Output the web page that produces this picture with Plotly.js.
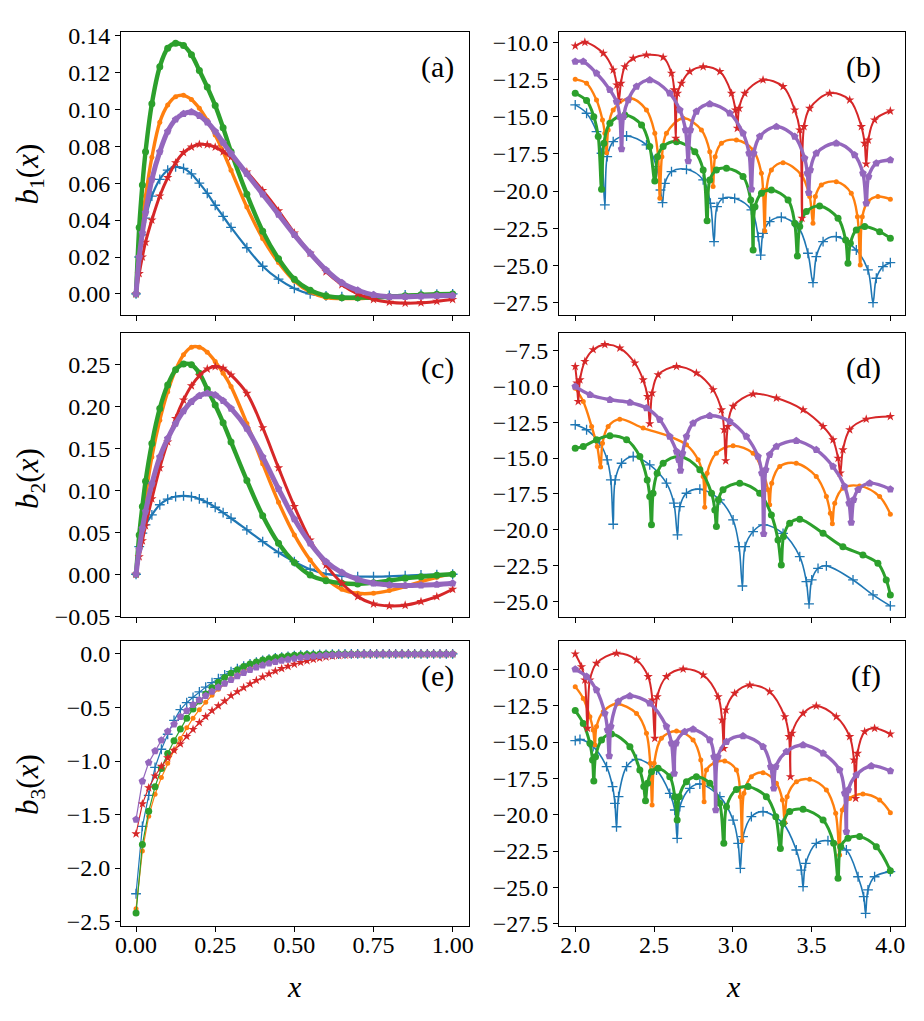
<!DOCTYPE html>
<html><head><meta charset="utf-8">
<script src="https://cdn.plot.ly/plotly-3.0.1.min.js"></script>
<style>html,body{margin:0;padding:0;background:#fff}#chart{width:924px;height:1021px}</style>
</head><body><div id="chart"></div>
<script>
// ---------- DATA ----------
// left column (a), (c): common x grid
const xLeft = [0, 0.01, 0.02, 0.03, 0.05, 0.075, 0.1, 0.125, 0.15, 0.175, 0.2, 0.225, 0.25, 0.275, 0.3, 0.35, 0.4, 0.45, 0.5, 0.55, 0.6, 0.65, 0.7, 0.75, 0.8, 0.85, 0.9, 0.95, 1.0];

const a_blue   = [0, 0.02, 0.032, 0.041, 0.053, 0.062, 0.067, 0.0688, 0.068, 0.065, 0.060, 0.0545, 0.048, 0.042, 0.036, 0.025, 0.015, 0.008, 0.003, 0.0, -0.001, -0.0015, -0.0015, -0.001, -0.0008, -0.0005, -0.0003, -0.0001, 0];
const a_orange = [0, 0.022, 0.04, 0.053, 0.074, 0.093, 0.1023, 0.1068, 0.1075, 0.1052, 0.1005, 0.094, 0.086, 0.077, 0.067, 0.047, 0.030, 0.017, 0.007, 0.001, -0.002, -0.0025, -0.0025, -0.002, -0.0015, -0.001, -0.0005, -0.0002, 0];
const a_green  = [0, 0.036, 0.059, 0.077, 0.103, 0.123, 0.133, 0.1357, 0.1345, 0.1295, 0.121, 0.112, 0.102, 0.09, 0.077, 0.054, 0.034, 0.019, 0.008, 0.002, -0.001, -0.002, -0.002, -0.002, -0.0015, -0.001, -0.0005, -0.0002, 0];
const a_red    = [0, 0.011, 0.02, 0.028, 0.040, 0.053, 0.063, 0.071, 0.0765, 0.0795, 0.081, 0.0808, 0.0795, 0.077, 0.074, 0.066, 0.056, 0.045, 0.033, 0.022, 0.012, 0.005, 0.0, -0.003, -0.0045, -0.005, -0.0048, -0.004, -0.003];
const a_purple = [0, 0.02, 0.033, 0.044, 0.062, 0.077, 0.088, 0.0945, 0.0975, 0.0985, 0.0965, 0.093, 0.088, 0.082, 0.076, 0.065, 0.054, 0.043, 0.032, 0.022, 0.013, 0.006, 0.002, -0.0005, -0.0015, -0.0015, -0.0012, -0.001, -0.0008];

const c_blue   = [0, 0.033, 0.049, 0.059, 0.071, 0.083, 0.0896, 0.0928, 0.0935, 0.0928, 0.09, 0.0856, 0.08, 0.0735, 0.0669, 0.053, 0.039, 0.026, 0.015, 0.006, 0.0004, -0.002, -0.0028, -0.0028, -0.0024, -0.0016, -0.0008, -0.0004, 0];
const c_orange = [0, 0.033, 0.069, 0.093, 0.14, 0.184, 0.218, 0.244, 0.262, 0.271, 0.271, 0.265, 0.254, 0.240, 0.224, 0.18, 0.132, 0.086, 0.047, 0.017, -0.005, -0.018, -0.0227, -0.0227, -0.0195, -0.0147, -0.0088, -0.0036, 0.001];
const c_green  = [0, 0.047, 0.081, 0.111, 0.156, 0.198, 0.226, 0.244, 0.251, 0.25, 0.24, 0.221, 0.202, 0.181, 0.158, 0.112, 0.07, 0.037, 0.014, -0.001, -0.0076, -0.0107, -0.0115, -0.01, -0.0076, -0.0048, -0.003, -0.0012, 0];
const c_red    = [0, 0.021, 0.04, 0.058, 0.09, 0.127, 0.158, 0.186, 0.208, 0.225, 0.237, 0.245, 0.248, 0.246, 0.238, 0.216, 0.175, 0.127, 0.081, 0.041, 0.011, -0.0107, -0.0267, -0.0354, -0.0378, -0.037, -0.0326, -0.0267, -0.0179];
const c_purple = [0, 0.03, 0.055, 0.075, 0.108, 0.140, 0.162, 0.18, 0.195, 0.206, 0.213, 0.216, 0.214, 0.207, 0.198, 0.174, 0.14, 0.102, 0.066, 0.037, 0.015, 0.002, -0.006, -0.0107, -0.0127, -0.0135, -0.0131, -0.0123, -0.0107];

// panel (e)
const xE = [0, 0.02, 0.04, 0.06, 0.08, 0.10, 0.12, 0.14, 0.16, 0.18, 0.20, 0.22, 0.24, 0.26, 0.28, 0.30, 0.32, 0.34, 0.36, 0.38, 0.40, 0.42, 0.44, 0.46, 0.48, 0.50, 0.52, 0.54, 0.56, 0.58, 0.60, 0.62, 0.64, 0.66, 0.68, 0.70, 0.72, 0.74, 0.76, 0.78, 0.80, 0.82, 0.84, 0.86, 0.88, 0.90, 0.92, 0.94, 0.96, 0.98, 1.0];
const e_blue   = [-2.24, -1.61, -1.32, -1.06, -0.89, -0.75, -0.62, -0.52, -0.455, -0.405, -0.355, -0.31, -0.268, -0.23, -0.195, -0.165, -0.138, -0.114, -0.094, -0.076, -0.061, -0.049, -0.038, -0.03, -0.023, -0.017, -0.012, -0.009, -0.006, -0.004, -0.003, -0.002, -0.001, 0, 0, 0, 0, 0, 0, 0, 0, 0, 0, 0, 0, 0, 0, 0, 0, 0, 0];
const e_orange = [-2.38, -1.84, -1.515, -1.31, -1.155, -1.02, -0.90, -0.79, -0.69, -0.60, -0.52, -0.45, -0.385, -0.33, -0.28, -0.235, -0.195, -0.16, -0.13, -0.105, -0.084, -0.066, -0.051, -0.039, -0.03, -0.022, -0.016, -0.011, -0.008, -0.005, -0.003, -0.002, -0.001, 0, 0, 0, 0, 0, 0, 0, 0, 0, 0, 0, 0, 0, 0, 0, 0, 0, 0];
const e_green  = [-2.42, -1.78, -1.47, -1.24, -1.07, -0.93, -0.81, -0.70, -0.60, -0.515, -0.44, -0.375, -0.315, -0.265, -0.22, -0.18, -0.147, -0.118, -0.094, -0.074, -0.057, -0.044, -0.033, -0.025, -0.018, -0.013, -0.009, -0.006, -0.004, -0.002, -0.001, 0, 0, 0, 0, 0, 0, 0, 0, 0, 0, 0, 0, 0, 0, 0, 0, 0, 0, 0, 0];
const e_red    = [-1.68, -1.40, -1.25, -1.14, -1.05, -0.97, -0.90, -0.84, -0.77, -0.705, -0.64, -0.585, -0.53, -0.485, -0.44, -0.39, -0.352, -0.315, -0.28, -0.247, -0.215, -0.187, -0.16, -0.137, -0.115, -0.096, -0.079, -0.064, -0.05, -0.038, -0.028, -0.02, -0.014, -0.009, -0.006, -0.004, -0.002, -0.001, 0, 0, 0, 0, 0, 0, 0, 0, 0, 0, 0, 0, 0];
const e_purple = [-1.546, -1.19, -1.015, -0.906, -0.806, -0.725, -0.656, -0.587, -0.531, -0.475, -0.431, -0.39, -0.35, -0.312, -0.275, -0.24, -0.205, -0.175, -0.148, -0.125, -0.105, -0.088, -0.074, -0.062, -0.051, -0.042, -0.034, -0.027, -0.021, -0.016, -0.012, -0.009, -0.006, -0.004, -0.003, -0.002, -0.001, 0, 0, 0, 0, 0, 0, 0, 0, 0, 0, 0, 0, 0, 0];

// right column: [x, value] pairs
const b_blue = [[2.000,-14.21],[2.072,-14.77],[2.135,-16.00],[2.167,-17.46],[2.188,-20.93],[2.203,-17.69],[2.241,-16.68],[2.326,-16.30],[2.452,-16.90],[2.516,-18.36],[2.541,-19.93],[2.554,-20.78],[2.569,-19.48],[2.611,-18.69],[2.706,-18.54],[2.812,-19.25],[2.858,-20.82],[2.881,-23.40],[2.900,-21.05],[2.938,-20.49],[3.012,-20.49],[3.118,-21.27],[3.161,-23.06],[3.177,-24.30],[3.192,-22.84],[3.234,-22.05],[3.308,-21.76],[3.414,-22.39],[3.477,-24.18],[3.509,-26.16],[3.530,-24.41],[3.573,-23.40],[3.657,-23.06],[3.784,-23.96],[3.858,-25.30],[3.890,-27.50],[3.911,-25.86],[3.953,-25.08],[4.000,-24.81]];
const b_orange = [[2.000,-12.49],[2.072,-12.76],[2.135,-13.88],[2.173,-15.22],[2.188,-16.12],[2.199,-17.42],[2.209,-15.89],[2.241,-14.55],[2.347,-13.76],[2.452,-14.55],[2.505,-16.12],[2.526,-17.69],[2.537,-20.49],[2.550,-17.69],[2.579,-16.12],[2.685,-15.11],[2.801,-15.89],[2.854,-17.35],[2.875,-19.70],[2.888,-17.69],[2.928,-16.79],[3.023,-16.57],[3.129,-17.24],[3.182,-18.81],[3.192,-19.93],[3.203,-22.68],[3.213,-19.93],[3.245,-18.58],[3.319,-18.09],[3.435,-18.92],[3.488,-20.37],[3.509,-22.17],[3.524,-20.37],[3.562,-19.59],[3.657,-19.37],[3.752,-20.15],[3.791,-21.72],[3.809,-24.97],[3.822,-21.72],[3.858,-20.71],[3.921,-20.37],[4.000,-20.55]];
const b_green = [[2.000,-13.43],[2.072,-13.92],[2.118,-15.00],[2.146,-16.34],[2.167,-19.88],[2.182,-16.79],[2.220,-15.44],[2.315,-14.88],[2.421,-15.56],[2.473,-17.01],[2.505,-19.32],[2.522,-17.69],[2.558,-17.01],[2.643,-16.68],[2.759,-17.35],[2.812,-18.58],[2.837,-21.99],[2.854,-19.25],[2.896,-18.58],[2.960,-18.47],[3.065,-19.03],[3.114,-20.60],[3.129,-23.96],[3.141,-21.05],[3.182,-20.15],[3.245,-19.93],[3.351,-20.60],[3.393,-22.17],[3.410,-24.36],[3.425,-22.39],[3.467,-21.38],[3.551,-21.00],[3.668,-21.83],[3.716,-23.29],[3.731,-24.86],[3.746,-23.51],[3.784,-22.61],[3.837,-22.39],[3.932,-22.73],[4.000,-23.18]];
const b_red = [[2.000,-10.25],[2.061,-10.00],[2.178,-10.74],[2.241,-11.86],[2.264,-12.87],[2.277,-13.88],[2.290,-12.76],[2.315,-11.64],[2.368,-11.08],[2.452,-10.85],[2.558,-11.01],[2.611,-12.08],[2.628,-13.20],[2.638,-16.45],[2.649,-13.43],[2.674,-12.76],[2.727,-11.97],[2.812,-11.64],[2.918,-11.97],[2.992,-13.43],[3.017,-14.55],[3.029,-15.78],[3.040,-14.44],[3.076,-13.43],[3.192,-12.53],[3.319,-12.98],[3.393,-14.55],[3.425,-15.89],[3.439,-21.83],[3.452,-15.67],[3.488,-14.44],[3.615,-13.43],[3.742,-13.88],[3.816,-15.67],[3.837,-16.79],[3.847,-18.18],[3.860,-16.57],[3.900,-15.22],[4.000,-14.62]];
const b_purple = [[2.000,-11.30],[2.051,-11.30],[2.135,-12.08],[2.220,-13.20],[2.262,-13.99],[2.283,-15.00],[2.294,-17.17],[2.306,-15.00],[2.336,-13.88],[2.389,-12.98],[2.473,-12.53],[2.600,-13.43],[2.664,-14.55],[2.700,-15.89],[2.717,-17.98],[2.731,-15.89],[2.769,-14.66],[2.854,-14.15],[2.981,-14.77],[3.065,-16.12],[3.103,-17.46],[3.118,-19.88],[3.133,-17.46],[3.171,-16.34],[3.277,-15.67],[3.393,-16.34],[3.456,-17.80],[3.473,-18.81],[3.482,-20.11],[3.492,-18.58],[3.530,-17.46],[3.657,-16.79],[3.773,-17.57],[3.826,-18.81],[3.847,-20.82],[3.862,-19.03],[3.911,-18.13],[4.000,-17.91]];

const d_blue = [[2.000,-12.68],[2.072,-13.03],[2.156,-13.96],[2.203,-15.12],[2.226,-16.52],[2.241,-19.61],[2.254,-16.52],[2.294,-15.36],[2.368,-14.89],[2.473,-15.47],[2.579,-16.75],[2.626,-18.14],[2.649,-20.35],[2.664,-18.38],[2.706,-17.45],[2.791,-17.17],[2.918,-17.91],[3.002,-19.31],[3.040,-21.17],[3.061,-23.91],[3.078,-21.17],[3.129,-20.12],[3.192,-19.65],[3.319,-20.24],[3.425,-21.86],[3.467,-23.60],[3.484,-25.16],[3.501,-23.49],[3.541,-22.68],[3.594,-22.51],[3.763,-23.49],[3.890,-24.53],[4.000,-25.30]];
const d_orange = [[2.000,-10.13],[2.051,-11.06],[2.104,-12.80],[2.140,-14.19],[2.161,-15.63],[2.173,-13.96],[2.209,-12.80],[2.283,-12.29],[2.431,-12.91],[2.600,-13.50],[2.706,-14.08],[2.780,-15.12],[2.812,-16.28],[2.822,-18.42],[2.837,-16.05],[2.896,-14.66],[3.002,-14.15],[3.129,-14.66],[3.192,-16.05],[3.224,-17.21],[3.234,-18.26],[3.247,-16.75],[3.298,-15.59],[3.403,-15.36],[3.530,-16.28],[3.594,-17.68],[3.619,-18.84],[3.632,-19.58],[3.647,-18.14],[3.699,-17.10],[3.805,-16.94],[3.932,-17.68],[4.000,-18.91]];
const d_green = [[2.000,-14.31],[2.051,-14.19],[2.135,-13.73],[2.220,-13.45],[2.326,-13.73],[2.410,-14.89],[2.457,-16.52],[2.473,-17.68],[2.484,-19.65],[2.494,-17.45],[2.520,-16.05],[2.558,-15.36],[2.664,-14.89],[2.791,-15.82],[2.865,-17.45],[2.886,-18.61],[2.896,-19.77],[2.909,-17.91],[2.938,-17.21],[3.044,-16.75],[3.171,-17.45],[3.245,-18.96],[3.287,-20.70],[3.308,-22.44],[3.322,-20.47],[3.361,-19.54],[3.425,-19.26],[3.573,-20.24],[3.699,-21.17],[3.826,-21.75],[3.921,-22.33],[3.974,-23.49],[4.000,-24.53]];
const d_red = [[2.000,-8.62],[2.011,-9.78],[2.019,-11.06],[2.030,-9.55],[2.061,-8.27],[2.114,-7.45],[2.188,-7.10],[2.283,-7.34],[2.378,-8.38],[2.431,-9.55],[2.459,-10.71],[2.473,-12.61],[2.488,-10.47],[2.526,-9.20],[2.643,-8.62],[2.769,-9.08],[2.875,-10.24],[2.928,-11.64],[2.945,-13.03],[2.955,-15.19],[2.968,-12.80],[3.002,-11.40],[3.129,-10.54],[3.277,-10.82],[3.446,-11.64],[3.573,-12.80],[3.636,-13.73],[3.668,-15.01],[3.682,-16.05],[3.699,-14.43],[3.742,-13.03],[3.847,-12.29],[4.000,-12.10]];
const d_purple = [[2.000,-10.01],[2.093,-10.59],[2.220,-10.94],[2.347,-11.13],[2.452,-11.52],[2.537,-12.33],[2.600,-13.50],[2.643,-14.54],[2.657,-15.12],[2.668,-15.87],[2.681,-14.66],[2.706,-13.50],[2.748,-12.57],[2.854,-12.06],[2.981,-12.45],[3.086,-13.50],[3.160,-14.89],[3.184,-16.05],[3.196,-20.28],[3.209,-15.82],[3.234,-14.77],[3.277,-14.19],[3.403,-13.80],[3.530,-14.43],[3.636,-15.59],[3.710,-16.98],[3.738,-18.14],[3.752,-19.49],[3.767,-17.91],[3.795,-17.21],[3.869,-16.75],[4.000,-17.17]];

const f_blue = [[2.000,-14.91],[2.030,-14.82],[2.114,-15.32],[2.199,-16.70],[2.237,-18.07],[2.252,-19.22],[2.262,-20.83],[2.275,-18.76],[2.326,-16.70],[2.389,-16.19],[2.516,-16.93],[2.600,-18.53],[2.632,-19.68],[2.647,-21.63],[2.664,-19.45],[2.727,-18.19],[2.791,-17.89],[2.918,-18.76],[3.002,-20.37],[3.034,-21.97],[3.048,-23.69],[3.065,-21.51],[3.118,-20.14],[3.192,-19.79],[3.319,-20.60],[3.403,-22.43],[3.435,-23.81],[3.446,-24.95],[3.463,-23.35],[3.530,-21.97],[3.604,-21.79],[3.721,-22.43],[3.795,-24.27],[3.831,-25.64],[3.843,-26.79],[3.858,-25.18],[3.900,-24.27],[4.000,-23.92]];
const f_orange = [[2.000,-11.19],[2.051,-12.00],[2.093,-13.26],[2.114,-14.17],[2.125,-15.21],[2.135,-13.94],[2.178,-12.91],[2.262,-12.39],[2.389,-13.03],[2.452,-14.40],[2.476,-16.47],[2.488,-19.33],[2.501,-16.47],[2.547,-14.75],[2.643,-14.24],[2.748,-14.86],[2.797,-16.24],[2.818,-19.11],[2.833,-16.93],[2.886,-16.42],[2.949,-16.31],[3.023,-16.93],[3.048,-18.76],[3.059,-21.79],[3.071,-18.53],[3.118,-17.39],[3.192,-17.11],[3.277,-17.84],[3.315,-18.99],[3.330,-20.55],[3.345,-18.76],[3.404,-17.73],[3.488,-17.57],[3.594,-18.30],[3.653,-19.91],[3.678,-22.78],[3.695,-19.68],[3.742,-18.88],[3.826,-18.58],[3.932,-18.99],[4.000,-19.86]];
const f_green = [[2.000,-12.84],[2.051,-13.72],[2.093,-15.09],[2.110,-16.24],[2.118,-17.68],[2.129,-16.01],[2.167,-14.86],[2.230,-14.45],[2.347,-15.32],[2.410,-16.93],[2.435,-18.07],[2.446,-19.04],[2.459,-17.84],[2.484,-17.04],[2.526,-16.81],[2.600,-17.39],[2.632,-18.76],[2.647,-20.37],[2.660,-18.76],[2.706,-17.73],[2.769,-17.39],[2.854,-17.84],[2.917,-19.22],[2.943,-21.97],[2.960,-19.45],[3.023,-18.26],[3.097,-18.07],[3.213,-18.76],[3.273,-20.14],[3.302,-22.32],[3.319,-20.60],[3.361,-19.79],[3.446,-19.63],[3.573,-20.37],[3.640,-21.97],[3.668,-24.38],[3.685,-22.20],[3.731,-21.63],[3.805,-21.51],[3.911,-22.20],[4.000,-23.85]];
const f_red = [[2.000,-8.94],[2.040,-9.82],[2.061,-10.73],[2.078,-14.06],[2.093,-10.73],[2.135,-9.59],[2.262,-8.90],[2.389,-9.36],[2.463,-10.50],[2.490,-12.11],[2.505,-14.75],[2.520,-11.88],[2.579,-10.50],[2.685,-9.98],[2.812,-10.39],[2.907,-11.88],[2.932,-13.49],[2.943,-15.44],[2.956,-12.80],[3.012,-11.65],[3.108,-11.08],[3.234,-11.54],[3.330,-13.26],[3.357,-14.63],[3.366,-17.39],[3.376,-14.40],[3.446,-13.03],[3.530,-12.52],[3.657,-13.26],[3.742,-14.63],[3.769,-16.24],[3.780,-18.88],[3.791,-15.78],[3.837,-14.29],[3.900,-14.06],[4.000,-14.45]];
const f_purple = [[2.000,-10.00],[2.072,-10.50],[2.135,-11.42],[2.188,-13.03],[2.205,-14.17],[2.216,-15.96],[2.226,-13.94],[2.273,-12.22],[2.347,-11.83],[2.473,-12.34],[2.579,-13.94],[2.611,-15.09],[2.628,-17.16],[2.640,-15.09],[2.695,-14.29],[2.748,-14.13],[2.854,-14.86],[2.881,-16.01],[2.892,-19.68],[2.905,-16.01],[2.960,-14.98],[3.065,-14.59],[3.192,-15.32],[3.241,-16.70],[3.260,-18.19],[3.273,-16.70],[3.340,-15.67],[3.446,-15.21],[3.573,-15.78],[3.678,-16.93],[3.710,-18.53],[3.721,-21.17],[3.733,-18.30],[3.784,-17.27],[3.879,-16.65],[4.000,-17.00]];

const panelLabels = ['(a)', '(b)', '(c)', '(d)', '(e)', '(f)'];
const yTitles = ['<i>b</i><sub>1</sub>(<i>x</i>)', '<i>b</i><sub>2</sub>(<i>x</i>)', '<i>b</i><sub>3</sub>(<i>x</i>)'];

// ---------- STYLE ----------
const SER = ['blue', 'orange', 'green', 'red', 'purple'];
const COL = {blue:'#1f77b4', orange:'#ff7f0e', green:'#2ca02c', red:'#d62728', purple:'#9467bd'};
const SYM = {blue:'cross-thin', orange:'circle', green:'circle', red:'star', purple:'pentagon'};
const MS  = {blue:7, orange:5, green:7, red:7, purple:8};
const LW_DENSE = {blue:2.2, orange:3.4, green:4.4, red:3, purple:5};
const LW_RIGHT = {blue:1.6, orange:2.4, green:3, red:2, purple:3.4};

function trace(x, y, s, n, lw, shape) {
  const sfx = n > 1 ? String(n) : '';
  return {
    type: 'scatter', mode: 'lines+markers', x: x, y: y,
    xaxis: 'x' + sfx, yaxis: 'y' + sfx, hoverinfo: 'skip',
    line: {color: COL[s], width: lw, shape: shape, smoothing: 1},
    marker: {symbol: SYM[s], size: MS[s], color: COL[s],
             line: s === 'blue' ? {color: COL[s], width: 1.3} : {width: 0}}
  };
}

const traces = [];
const leftSets = {1: {blue:a_blue, orange:a_orange, green:a_green, red:a_red, purple:a_purple},
                  3: {blue:c_blue, orange:c_orange, green:c_green, red:c_red, purple:c_purple}};
for (const n of [1, 3]) for (const s of SER) traces.push(trace(xLeft, leftSets[n][s], s, n, LW_DENSE[s], 'spline'));
const eSet = {blue:e_blue, orange:e_orange, green:e_green, red:e_red, purple:e_purple};
for (const s of SER) traces.push(trace(xE, eSet[s], s, 5, 1.2, 'linear'));
const rightSets = {2: {blue:b_blue, orange:b_orange, green:b_green, red:b_red, purple:b_purple},
                   4: {blue:d_blue, orange:d_orange, green:d_green, red:d_red, purple:d_purple},
                   6: {blue:f_blue, orange:f_orange, green:f_green, red:f_red, purple:f_purple}};
for (const n of [2, 4, 6]) for (const s of SER) {
  const pts = rightSets[n][s];
  traces.push(trace(pts.map(p => p[0]), pts.map(p => p[1]), s, n, LW_RIGHT[s], 'spline'));
}

// ---------- LAYOUT ----------
const W = 924, H = 1021;
const colX = [[121/W, 469/W], [559/W, 905/W]];
const rowY = [[1 - 315/H, 1 - 32/H], [1 - 617/H, 1 - 333/H], [1 - 926/H, 1 - 641/H]];
const FONT = "'Liberation Serif', 'DejaVu Serif', serif";

function axisBase() {
  return {showline: true, linecolor: 'black', linewidth: 1, mirror: true,
          ticks: 'outside', ticklen: 5, tickwidth: 1, tickcolor: 'black',
          showgrid: false, zeroline: false, fixedrange: true,
          tickfont: {family: FONT, size: 24, color: 'black'}};
}
const yRanges = {1: [-0.0114, 0.1418], 2: [-28.33, -9.31], 3: [-0.051, 0.288],
                 4: [-26.07, -6.29], 5: [-2.541, 0.121], 6: [-27.66, -8.05]};
const yTicks = {1: [0, 0.02, '.2f'], 2: [-10, 2.5, '.1f'], 3: [0, 0.05, '.2f'],
                4: [-7.5, 2.5, '.1f'], 5: [0, 0.5, '.1f'], 6: [-10, 2.5, '.1f']};

const layout = {
  width: W, height: H, margin: {l: 0, r: 0, t: 0, b: 0},
  paper_bgcolor: 'white', plot_bgcolor: 'white', showlegend: false,
  font: {family: FONT, size: 24, color: 'black'},
  annotations: []
};
for (let n = 1; n <= 6; n++) {
  const col = (n % 2 === 1) ? 0 : 1;
  const row = Math.floor((n - 1) / 2);
  const sfx = n > 1 ? String(n) : '';
  const xa = axisBase();
  Object.assign(xa, {domain: colX[col], anchor: 'y' + sfx,
    range: col === 0 ? [-0.0475, 1.0516] : [1.897, 4.093],
    tick0: col === 0 ? 0 : 2, dtick: col === 0 ? 0.25 : 0.5,
    tickformat: col === 0 ? '.2f' : '.1f', showticklabels: row === 2,
    ticklabelstandoff: -8});
  const ya = axisBase();
  Object.assign(ya, {domain: rowY[row], anchor: 'x' + sfx, range: yRanges[n],
    tick0: yTicks[n][0], dtick: yTicks[n][1], tickformat: yTicks[n][2],
    ticklabelstandoff: 0});
  layout['xaxis' + sfx] = xa;
  layout['yaxis' + sfx] = ya;
  layout.annotations.push({text: panelLabels[n - 1], xref: 'x' + sfx + ' domain', yref: 'y' + sfx + ' domain',
    x: col === 0 ? 0.962 : 0.935, y: 0.878, xanchor: 'right', yanchor: 'middle', showarrow: false,
    font: {family: FONT, size: 30, color: 'black'}});
}
const titleY = [1 - 173.5/H, 1 - 478/H, 1 - 784/H];
for (let r = 0; r < 3; r++) {
  layout.annotations.push({text: yTitles[r], xref: 'paper', yref: 'paper', x: 30/W, y: titleY[r],
    xanchor: 'center', yanchor: 'middle', textangle: -90, showarrow: false,
    font: {family: FONT, size: 31, color: 'black'}});
}
for (const cx of [294, 733]) {
  layout.annotations.push({text: '<i>x</i>', xref: 'paper', yref: 'paper', x: cx/W, y: 1 - 986/H,
    xanchor: 'center', yanchor: 'middle', showarrow: false,
    font: {family: FONT, size: 30, color: 'black'}});
}

Plotly.newPlot('chart', traces, layout, {displayModeBar: false, staticPlot: true});
</script>
</body></html>
